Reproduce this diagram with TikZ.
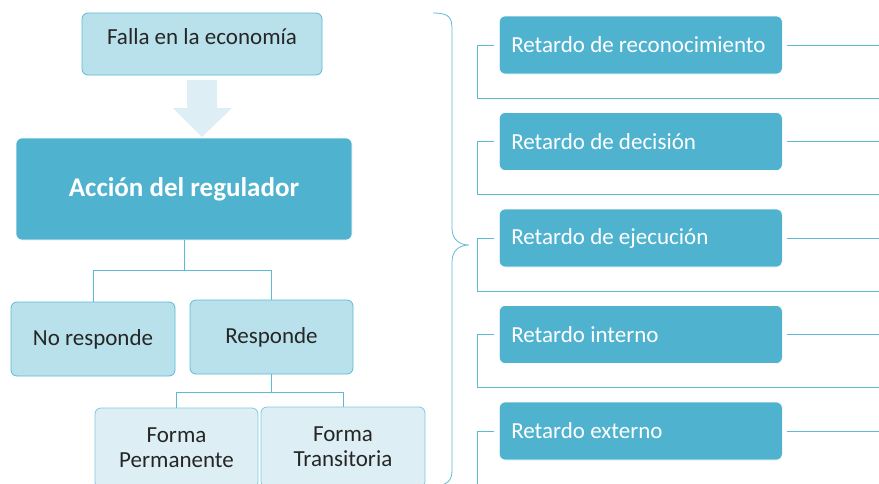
\documentclass[tikz,border=0pt]{standalone}
\usepackage{fontspec}
\setmainfont{Carlito}
\usepackage{tikz}
\usetikzlibrary{positioning}

\definecolor{darkbox}{HTML}{4FB3D0}
\definecolor{lightbox}{HTML}{B9E1EB}
\definecolor{paleboxx}{HTML}{DDEFF5}
\definecolor{linec}{HTML}{5CBAD5}
\definecolor{txt}{HTML}{262626}

\begin{document}
\begin{tikzpicture}[x=1pt,y=-1pt,
    darkb/.style={rectangle, rounded corners=6pt, fill=darkbox, draw=white, line width=0.6pt, text=white},
    lightb/.style={rectangle, rounded corners=6pt, fill=lightbox, draw=linec, line width=0.8pt, text=txt, font=\fontsize{23}{26}\selectfont},
    paleb/.style={rectangle, rounded corners=6pt, fill=paleboxx, draw=linec!80, line width=0.8pt, text=txt, align=center, font=\fontsize{23}{25}\selectfont},
    retb/.style={darkb, anchor=west, minimum width=283pt, minimum height=58pt, text width=259pt, align=flush left, inner xsep=12pt, font=\fontsize{23}{26}\selectfont},
    conn/.style={draw=linec, line width=0.9pt}]
    \useasboundingbox (0,0) rectangle (879,483);

    % left tree
    \node[lightb, minimum width=240pt, minimum height=62pt, text depth=14pt] (falla) at (202,44) {Falla en la economía};
    \node[darkb, minimum width=336pt, minimum height=102pt, font=\fontsize{27}{30}\bfseries] (accion) at (184,189) {Acción del regulador};
    \node[lightb, minimum width=164pt, minimum height=74pt] (nores) at (93,339) {No responde};
    \node[lightb, minimum width=163pt, minimum height=74pt] (res) at (271.5,337) {Responde};
    \node[paleb, minimum width=163pt, minimum height=80pt] (perm) at (176.5,448) {Forma\\Permanente};
    \node[paleb, minimum width=164pt, minimum height=80pt] (trans) at (343,447) {Forma\\Transitoria};

    % big arrow
    \fill[paleboxx] (187,80) -- (217,80) -- (217,108) -- (232,108) -- (202,137) -- (173,108) -- (187,108) -- cycle;

    \draw[conn] (accion.south) -- ++(0,30) -| (nores.north);
    \draw[conn] (accion.south) ++(0,30) -| (res.north);
    \draw[conn] (res.south) -- ++(0,18) -| (perm.north);
    \draw[conn] (res.south) ++(0,18) -| (trans.north);

    % brace
    \draw[conn, line width=0.8pt] (433,13) .. controls (450,13) and (452,18) .. (452,30) -- (452,228)
        .. controls (452,240) and (460,245) .. (469,245)
        .. controls (460,245) and (452,250) .. (452,262) -- (452,470)
        .. controls (452,480) and (448,484) .. (438,486);

    % right column
    \node[retb] (r1) at (499,45) {Retardo de reconocimiento};
    \node[retb] (r2) at (499,141.5) {Retardo de decisión};
    \node[retb] (r3) at (499,238) {Retardo de ejecución};
    \node[retb] (r4) at (499,334.5) {Retardo interno};
    \node[retb] (r5) at (499,431) {Retardo externo};

    \foreach \r in {r1,r2,r3,r4,r5} {
        \coordinate (\r-a) at ([xshift=-5pt]\r.west);
        \coordinate (\r-b) at ([xshift=-22pt,yshift=-53pt]\r.west);
        \coordinate (\r-c) at ([xshift=380pt,yshift=-53pt]\r.west);
        \coordinate (\r-d) at ([xshift=4pt]\r.east);
        \coordinate (\r-e) at ([xshift=97pt]\r.east);
        \draw[conn] (\r-a) -| (\r-b) -- (\r-c);
        \draw[conn] (\r-d) -- (\r-e);
    }
\end{tikzpicture}
\end{document}
